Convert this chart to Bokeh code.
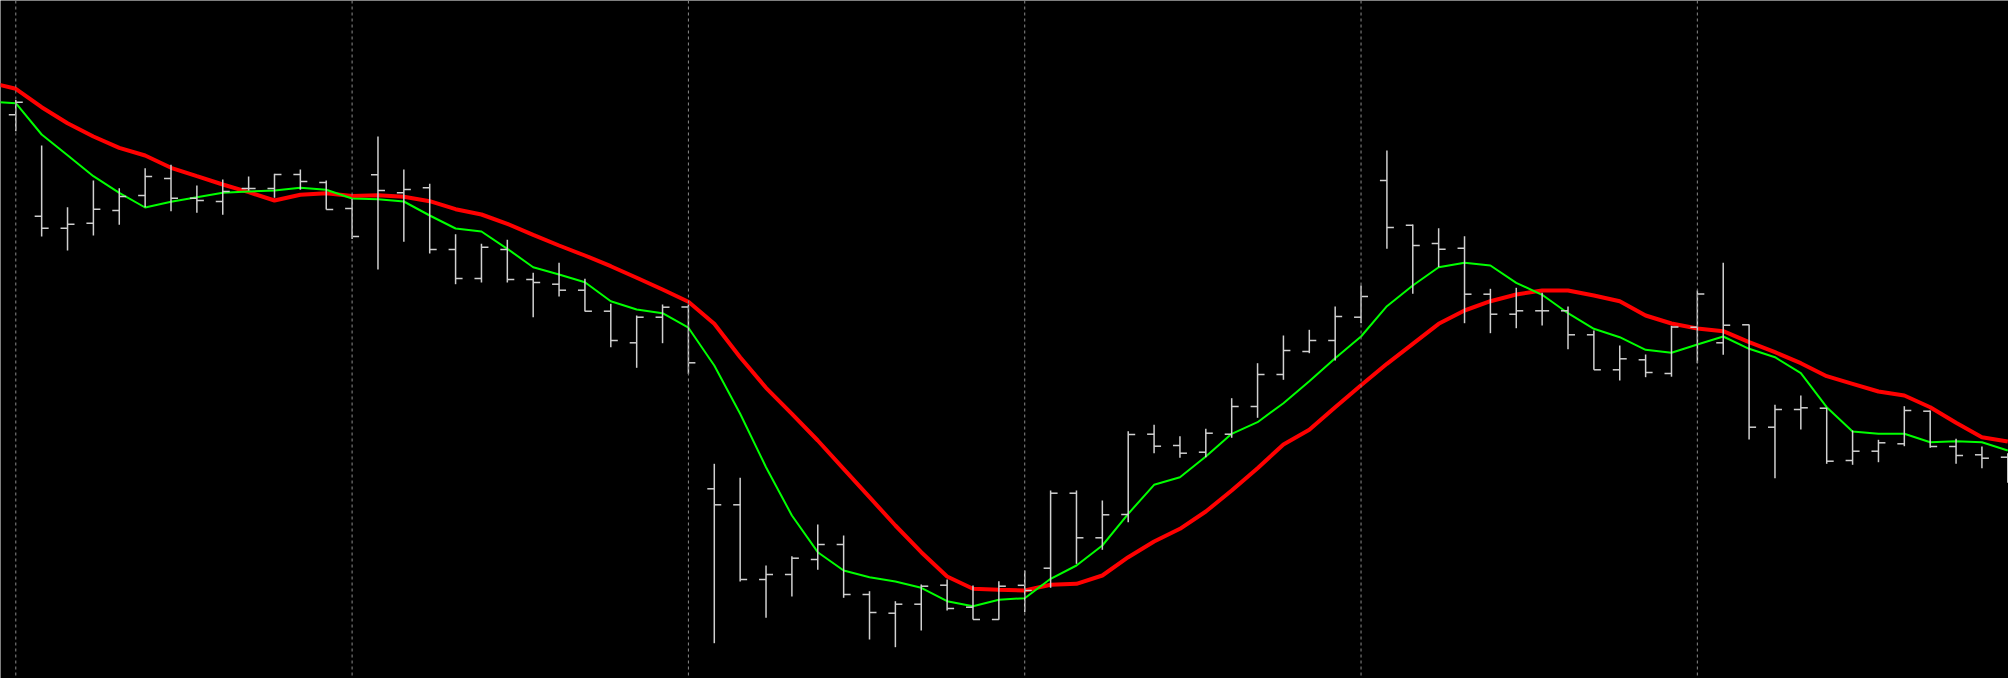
from bokeh.plotting import figure
from bokeh.models import Range1d, Span, ColumnDataSource
from bokeh.embed import file_html
from bokeh.resources import INLINE

# ---- data (bar index, OHLC, moving averages) ----
opens = [563.7, 462.3, 450.3, 455.3, 468, 483, 500, 480.3, 477, 490,
         490, 504, 496, 470, 503.7, 485.7, 490.7, 429, 400, 429,
         399, 394.3, 388.3, 367.3, 335.7, 361.3, 371.5, 189.7, 173.7, 99,
         104, 119, 134, 84, 65.3, 74.3, 93.3, 71.3, 59, 93.2,
         110.3, 185.3, 140.7, 164, 244.3, 233, 226.3, 244.3, 272, 304,
         327, 338, 361.3, 498, 453.3, 435, 430.3, 384.3, 364.3, 367.7,
         367.7, 343.7, 308.7, 318.7, 305, 351.3, 335.7, 353.7, 251.3, 269,
         270.3, 218, 227.3, 234.7, 267.3, 232, 223.7, 221.3]
highs = [578.5, 533, 471.3, 498, 490.3, 510.3, 513.7, 493, 499, 502,
         504.7, 509, 498, 479.5, 542, 509, 494.7, 444.3, 434.7, 438.7,
         405.7, 415.7, 399.7, 374.7, 363, 374, 374, 214.7, 200.7, 113,
         122.3, 154, 143, 87.3, 77.3, 94, 99, 93, 97.3, 108,
         188, 188, 178, 247.3, 253.7, 242.3, 249.7, 280.3, 315.3, 343,
         348.7, 372, 393, 528, 454, 450.3, 442.3, 389.7, 390.7, 385.7,
         372, 348, 333, 324, 352.7, 388, 415.7, 354, 273.7, 283,
         270.7, 248, 238.7, 272.3, 268, 239.7, 232, 225.3]
lows = [547.3, 442, 428, 443, 453.7, 471.3, 467.3, 465.7, 463.7, 488,
        480.7, 488.7, 469, 439.5, 409, 436.7, 425, 394.3, 396, 396,
        361.3, 382, 367, 331.3, 310.7, 335.3, 304.7, 35.3, 97, 60.7,
        82, 108.7, 80.7, 39, 31.3, 48, 68, 59, 58.7, 66.3,
        90.7, 114.7, 128.7, 156.3, 225.3, 220.7, 221.3, 240.7, 260.7, 298.7,
        325.3, 318, 355.3, 429.7, 384.7, 411.3, 355.3, 345.3, 350.3, 353,
        329.3, 308.7, 298, 301.3, 301.8, 315.3, 323.7, 239, 200.3, 249,
        214.7, 213.7, 216.3, 232.3, 230.7, 214.7, 210.3, 195.7]
closes = [576.3, 450.3, 454.3, 469.3, 482, 502, 480.3, 478, 487, 490,
          504, 497, 469, 442, 488, 489, 429, 400, 431.3, 399,
          396, 388.3, 367.3, 338, 361.3, 371.3, 315.7, 173.7, 99, 104,
          120.3, 134, 84, 66, 74.3, 92.3, 70, 59, 92.3, 88,
          185.3, 140.7, 163.7, 244, 232.3, 225.3, 245.3, 272, 304, 328,
          338, 362, 382, 451, 433, 429.3, 384.3, 364.3, 367.7, 367.7,
          343.7, 308.7, 319.7, 306, 351.5, 384.5, 353.3, 251.3, 269, 270.7,
          217.3, 227.3, 235.7, 268, 232, 223, 220.3, 208]

# moving averages start one bar before the first visible bar
ma_fast = [576.7, 575.3, 544, 523.3, 502.3, 485.7, 471, 476.7, 481.3, 485.7, 487,
           488, 490.7, 488.7, 480, 479.3, 477, 463, 450, 447, 429.7,
           411.3, 404, 396.3, 377.3, 369, 365.3, 350.8, 313, 264.7, 211.3,
           163, 126.3, 108, 101.3, 97, 90.7, 77.3, 72.3, 78.7, 80.3,
           99.7, 113, 133, 164.7, 193.7, 201.3, 222, 244.7, 256.3, 275.3,
           297.3, 320.3, 342, 372.3, 393, 411.3, 415.7, 413, 395.7, 383.7,
           365.3, 349.7, 341.3, 328.7, 325.8, 334, 342, 329.7, 321.3, 305.3,
           271.3, 247, 244.7, 244.7, 236.3, 237.3, 236.3, 228]
ma_slow = [596, 589.7, 571.3, 555.3, 542, 530.7, 523, 510.7, 502.3, 494, 486.3,
           478, 483.7, 485.3, 482.5, 483.3, 481.7, 477.3, 469.3, 464, 454.7,
           443.7, 433, 423, 412.3, 400.7, 389, 376.7, 354.7, 321.3, 290.7,
           264.7, 238, 209.7, 181.3, 153, 126.3, 102, 89.7, 88.7, 88,
           93.7, 94.7, 103, 121.3, 137, 149.7, 167, 188, 210.3, 234,
           248.7, 271.3, 293.3, 314.7, 334.7, 354.7, 368, 377.3, 384, 388,
           388, 383, 377.3, 363, 355, 350, 347.3, 336.3, 326.3, 315.3,
           302.3, 294.7, 287, 283, 271.3, 255.7, 241.3, 237]

grid_bars = [0, 13, 26, 39, 52, 65]

bar_idx = list(range(len(opens)))
ma_idx = list(range(-1, len(opens)))

TICK = 0.27

src = ColumnDataSource(dict(
    x=bar_idx, o=opens, h=highs, l=lows, c=closes,
    xl=[i - TICK for i in bar_idx], xr=[i + TICK for i in bar_idx],
))

p = figure(width=2008, height=678, output_backend="svg", toolbar_location=None,
           x_axis_type=None, y_axis_type=None,
           x_range=Range1d(-0.591, 77.027), y_range=Range1d(0, 678),
           background_fill_color="black", border_fill_color="black",
           min_border=0, outline_line_color=None)
p.xgrid.visible = False
p.ygrid.visible = False

for g in grid_bars:
    p.add_layout(Span(location=g, dimension="height", line_color="#8a8a8a",
                      line_width=1, line_dash="3 3"))

p.line(ma_idx, ma_slow, line_color="#ff0000", line_width=4)
p.line(ma_idx, ma_fast, line_color="#00ff00", line_width=2)

bar_col = "#d0d0d0"
p.segment(x0="x", y0="h", x1="x", y1="l", source=src, line_color=bar_col, line_width=1.5)
p.segment(x0="xl", y0="o", x1="x", y1="o", source=src, line_color=bar_col, line_width=1.5)
p.segment(x0="x", y0="c", x1="xr", y1="c", source=src, line_color=bar_col, line_width=1.5)

open("out.html", "w").write(file_html(p, INLINE))
